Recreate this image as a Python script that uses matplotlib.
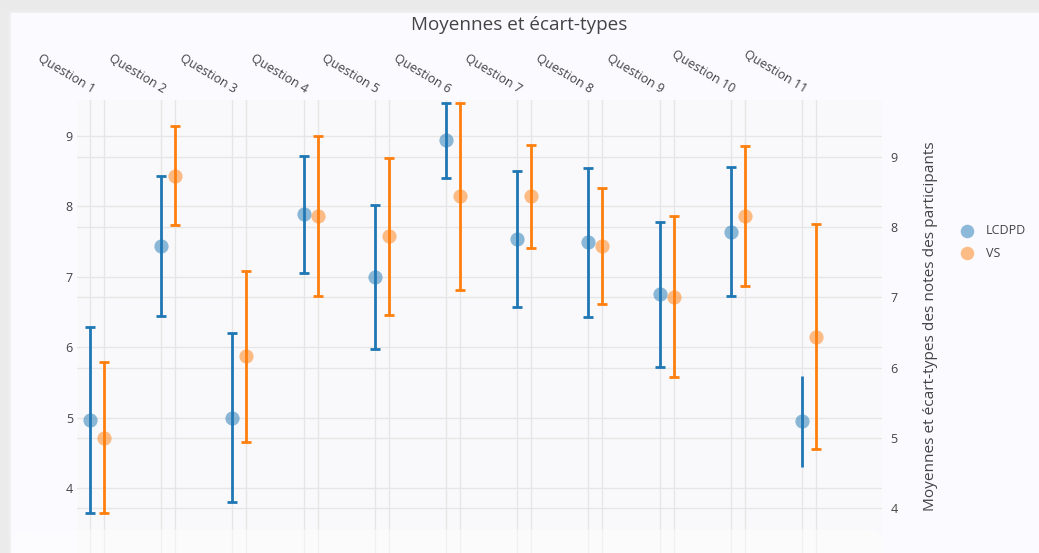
import matplotlib
matplotlib.use('Agg')
from matplotlib import pyplot as plt
from matplotlib import transforms
from matplotlib.patches import Rectangle, FancyBboxPatch
import numpy as np

questions = ['Question 1', 'Question 2', 'Question 3', 'Question 4', 'Question 5', 'Question 6',
             'Question 7', 'Question 8', 'Question 9', 'Question 10', 'Question 11']

lcdpd_mean = [4.96, 7.44, 5.00, 7.89, 7.00, 8.94, 7.54, 7.49, 6.75, 7.64, 4.95]
lcdpd_std = [1.32, 0.99, 1.20, 0.83, 1.02, 0.535, 0.965, 1.055, 1.03, 0.915, 0.645]

vs_mean = [5.00, 8.73, 6.16, 8.16, 7.87, 8.44, 8.44, 7.73, 7.01, 8.16, 6.44]
vs_std = [1.075, 0.705, 1.215, 1.14, 1.12, 1.33, 0.735, 0.83, 1.15, 1.00, 1.60]

# plotly draws the last LCDPD bar without caps
lcdpd_caps = [True, True, True, True, True, True, True, True, True, True, False]

y_ticks = [4, 5, 6, 7, 8, 9]

W, H = 1039, 553
BLUE = '#1f77b4'
ORANGE = '#ff7f0e'
TEXT = '#444444'
GRID = '#e6e6e6'
FONT = ['Open Sans', 'DejaVu Sans']


def draw_series(ax, x, mean, std, color, caps):
    x = np.asarray(x, dtype=float)
    mean = np.asarray(mean)
    std = np.asarray(std)
    caps = np.asarray(caps)
    for mask, capsize in ((caps, 3.6), (~caps, 0)):
        if mask.any():
            ax.errorbar(x[mask], mean[mask], yerr=std[mask], fmt='none', ecolor=color,
                        elinewidth=2, capsize=capsize, capthick=2, zorder=3)
    return ax.scatter(x, mean, s=105, color=color, alpha=0.5, linewidths=0, zorder=4)


def main() -> None:
    plt.rcParams['font.family'] = FONT
    fig = plt.figure(figsize=(W / 100, H / 100), dpi=100, facecolor='#eaeaea')

    # card and shadow of the screenshot
    for i, a in enumerate([0.15, 0.25, 0.4, 0.6]):
        fig.add_artist(Rectangle(((11 - 4 + i) / W, 0), 1, (H - 13 + 4 - i) / H,
                                 transform=fig.transFigure, facecolor='#f2f2f2', alpha=a,
                                 edgecolor='none', zorder=-3))
    fig.add_artist(Rectangle((11 / W, 0), 1, (H - 13) / H, transform=fig.transFigure,
                             facecolor='#fafaff', edgecolor='none', zorder=-2))

    ax = fig.add_axes([77 / W, 0, (882 - 77) / W, (H - 100) / H])
    ax.set_facecolor('#f9f9fb')
    ax2 = ax.twinx()

    x_blue = np.arange(len(questions))
    x_orange = x_blue + 14 / 71.2

    h1 = draw_series(ax, x_blue, lcdpd_mean, lcdpd_std, BLUE, lcdpd_caps)
    h2 = draw_series(ax2, x_orange, vs_mean, vs_std, ORANGE, [True] * len(questions))

    ax.set_xlim(-13 / 71.2, 792 / 71.2)
    ax.set_ylim(9 - 417 / 70.4, 9 + 36 / 70.4)
    ax2.set_ylim(9 - 396 / 70.2, 9 + 57 / 70.2)

    ax.set_yticks(y_ticks)
    ax2.set_yticks(y_ticks)
    ax.set_xticks(x_blue)
    ax.set_xticks(x_orange, minor=True)
    ax.xaxis.tick_top()
    ax.set_xticklabels(questions, rotation=-31, ha='right', va='bottom',
                       rotation_mode='anchor')
    shift = transforms.ScaledTranslation(-4 / 100, 0, fig.dpi_scale_trans)
    for label in ax.get_xticklabels():
        label.set_transform(label.get_transform() + shift)

    # grids: all drawn on the bottom axes so they stay under both series
    ax.set_axisbelow(True)
    ax.grid(True, which='both', axis='x', color=GRID, linewidth=1)
    ax.grid(True, axis='y', color=GRID, linewidth=1)
    right_trans = transforms.blended_transform_factory(ax.transAxes, ax2.transData)
    for v in ax2.get_yticks():
        ax.plot([0, 1], [v, v], transform=right_trans, color=GRID, linewidth=1, zorder=0.8)

    for a in (ax, ax2):
        for s in a.spines.values():
            s.set_visible(False)
    ax.tick_params(axis='x', which='both', length=0, pad=3, labelsize=9, labelcolor=TEXT)
    ax.tick_params(axis='y', length=0, pad=3, labelsize=9, labelcolor=TEXT)
    ax2.tick_params(axis='y', length=0, pad=6, labelsize=9, labelcolor=TEXT)

    ax2.set_ylabel('Moyennes et écart-types des notes des participants', fontsize=11.1,
                   color=TEXT, labelpad=18)

    fig.text(519 / W, 1 - 25 / H, 'Moyennes et écart-types', ha='center', va='center',
             fontsize=13.6, color=TEXT)

    fig.legend([h1, h2], ['LCDPD', 'VS'], loc='upper left',
               bbox_to_anchor=(943 / W, 1 - 213 / H), frameon=False, fontsize=9,
               labelcolor=TEXT, handletextpad=0.5, labelspacing=0.75, markerscale=0.95)

    # faded band at the bottom of the screenshot
    fig.add_artist(FancyBboxPatch((12 / W, -10 / H), 870 / W, 33 / H,
                                  boxstyle='round,pad=0,rounding_size=0.02',
                                  transform=fig.transFigure, facecolor='white', alpha=0.45,
                                  edgecolor='none', zorder=10))

    fig.savefig('out.png', dpi=100, facecolor=fig.get_facecolor())


if __name__ == '__main__':
    main()
